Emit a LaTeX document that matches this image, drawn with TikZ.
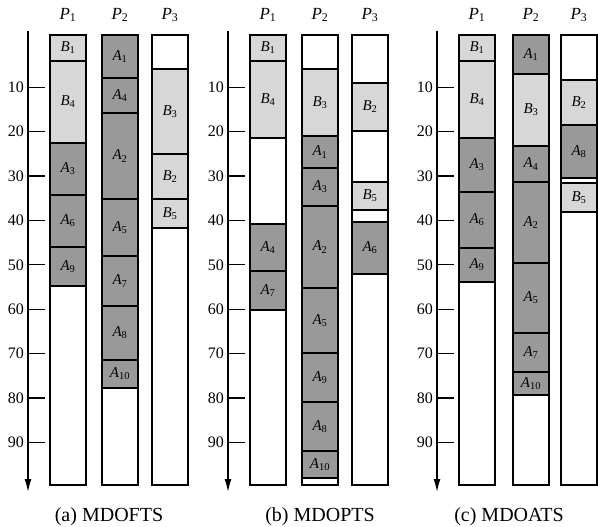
\documentclass[tikz,border=0pt]{standalone}
\usepackage{fontspec}
\setmainfont{Liberation Serif}
\usetikzlibrary{arrows.meta}
\definecolor{lightB}{RGB}{215,215,215}
\definecolor{darkA}{RGB}{153,153,153}
\newcommand\blk[6]{%
  \draw[#5] (#2,#3) rectangle ({#2+36},#4);
  \node[lbl] (#1) at ({#2+18},{(#3+#4)/2}) {#6};}
\newcommand\colbox[4]{%
  \draw[colframe] (#2,35) rectangle ({#2+36},485);
  \node[plbl] (#1) at ({#2+18},15) {{\itshape P}\textsubscript{#3}};}
\newcommand\taxis[2]{%
  \coordinate (#1top) at (#2,31);
  \coordinate (#1bot) at (#2,492);
  \draw[axisline] (#1top) -- (#1bot);
  \foreach \t in {10,20,...,90}{%
    \coordinate (#1t\t) at (#2,{42.8+4.44*\t});
    \draw[tickline] (#1t\t) -- ++(17,0);
    \node[ticklbl] at ({#2-4},{42.8+4.44*\t}) {\t};}}
\newcommand\A[1]{{\itshape A}\textsubscript{#1}}
\newcommand\B[1]{{\itshape B}\textsubscript{#1}}
\begin{document}
\begin{tikzpicture}[x=1pt,y=-1pt,
  colframe/.style={fill=white,draw=black,line width=1.3pt},
  lt/.style={fill=lightB,draw=black,line width=1.3pt},
  dk/.style={fill=darkA,draw=black,line width=1.3pt},
  wh/.style={fill=white,draw=black,line width=1.3pt},
  lbl/.style={font=\fontsize{15}{15}\selectfont,inner sep=0pt},
  plbl/.style={font=\fontsize{17}{17}\selectfont,inner sep=0pt},
  ticklbl/.style={anchor=east,font=\fontsize{16}{16}\selectfont,inner sep=0pt},
  tickline/.style={line width=1.3pt},
  axisline/.style={line width=1.3pt,-{Latex[length=13pt,width=7pt]}},
  captxt/.style={font=\fontsize{20}{22}\selectfont,inner sep=0pt}]
\useasboundingbox (0,0) rectangle (598,527);

% ---------------- (a) MDOFTS ----------------
\taxis{ax}{28}
\colbox{aP1}{50}{1}{}
\colbox{aP2}{102}{2}{}
\colbox{aP3}{152}{3}{}
\blk{a11}{50}{35}{61}{lt}{\B{1}}
\blk{a12}{50}{61}{143}{lt}{\B{4}}
\blk{a13}{50}{143}{195}{dk}{\A{3}}
\blk{a14}{50}{195}{247}{dk}{\A{6}}
\blk{a15}{50}{247}{286}{dk}{\A{9}}
\blk{a21}{102}{35}{78}{dk}{\A{1}}
\blk{a22}{102}{78}{113}{dk}{\A{4}}
\blk{a23}{102}{113}{199}{dk}{\A{2}}
\blk{a24}{102}{199}{256}{dk}{\A{5}}
\blk{a25}{102}{256}{306}{dk}{\A{7}}
\blk{a26}{102}{306}{360}{dk}{\A{8}}
\blk{a27}{102}{360}{388}{dk}{\A{10}}
\blk{a31}{152}{69}{154}{lt}{\B{3}}
\blk{a32}{152}{154}{199}{lt}{\B{2}}
\blk{a33}{152}{199}{228}{lt}{\B{5}}
\node[captxt] (capa) at (109,517) {(a) MDOFTS};

% ---------------- (b) MDOPTS ----------------
\taxis{bx}{228}
\colbox{bP1}{250}{1}{}
\colbox{bP2}{302}{2}{}
\colbox{bP3}{352}{3}{}
\blk{b11}{250}{35}{61}{lt}{\B{1}}
\blk{b12}{250}{61}{138}{lt}{\B{4}}
\blk{b13}{250}{224}{271}{dk}{\A{4}}
\blk{b14}{250}{271}{310}{dk}{\A{7}}
\blk{b21}{302}{69}{136}{lt}{\B{3}}
\blk{b22}{302}{136}{168}{dk}{\A{1}}
\blk{b23}{302}{168}{206}{dk}{\A{3}}
\blk{b24}{302}{206}{288}{dk}{\A{2}}
\blk{b25}{302}{288}{353}{dk}{\A{5}}
\blk{b26}{302}{353}{402}{dk}{\A{9}}
\blk{b27}{302}{402}{451}{dk}{\A{8}}
\blk{b28}{302}{451}{478}{dk}{\A{10}}
\blk{b31}{352}{83}{131}{lt}{\B{2}}
\blk{b32}{352}{182}{210}{lt}{\B{5}}
\blk{b33}{352}{222}{274}{dk}{\A{6}}
\node[captxt] (capb) at (320,517) {(b) MDOPTS};

% ---------------- (c) MDOATS ----------------
\taxis{cx}{437}
\colbox{cP1}{459}{1}{}
\colbox{cP2}{513}{2}{}
\colbox{cP3}{561}{3}{}
\blk{c11}{459}{35}{61}{lt}{\B{1}}
\blk{c12}{459}{61}{138}{lt}{\B{4}}
\blk{c13}{459}{138}{192}{dk}{\A{3}}
\blk{c14}{459}{192}{248}{dk}{\A{6}}
\blk{c15}{459}{248}{282}{dk}{\A{9}}
\blk{c21}{513}{35}{74}{dk}{\A{1}}
\blk{c22}{513}{74}{146}{lt}{\B{3}}
\blk{c23}{513}{146}{182}{dk}{\A{4}}
\blk{c24}{513}{182}{263}{dk}{\A{2}}
\blk{c25}{513}{263}{333}{dk}{\A{5}}
\blk{c26}{513}{333}{372}{dk}{\A{7}}
\blk{c27}{513}{372}{395}{dk}{\A{10}}
\blk{c31}{561}{80}{125}{lt}{\B{2}}
\blk{c32}{561}{125}{178}{dk}{\A{8}}
\blk{c33}{561}{183}{212}{lt}{\B{5}}
\node[captxt] (capc) at (509,517) {(c) MDOATS};
\end{tikzpicture}
\end{document}
